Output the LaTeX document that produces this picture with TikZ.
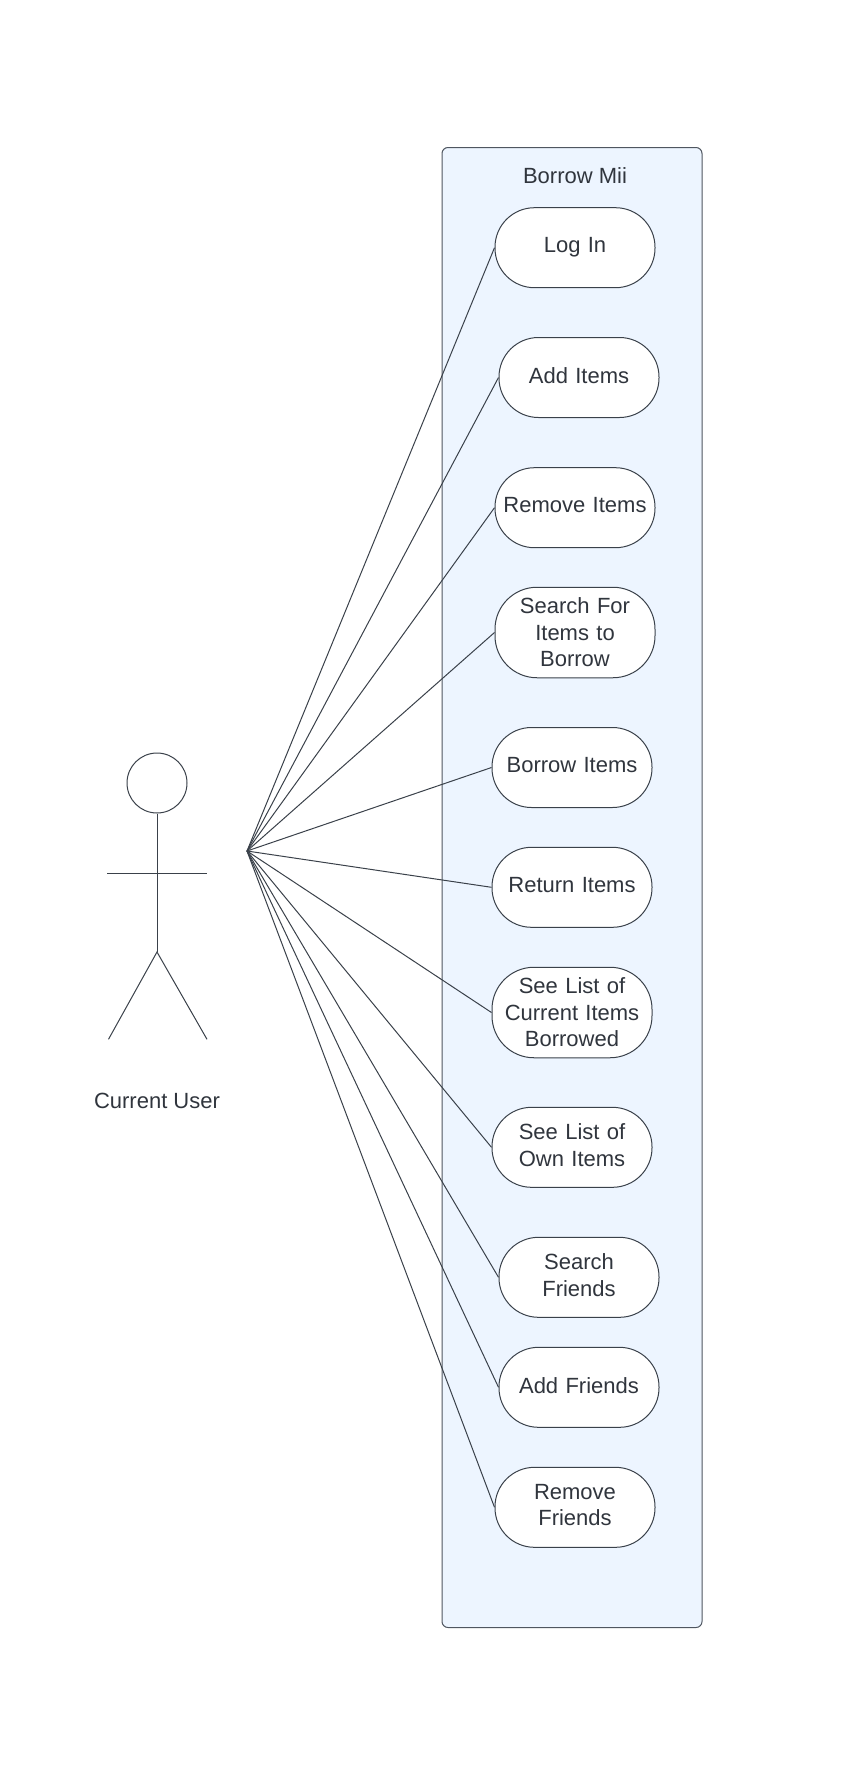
\documentclass[tikz,border=0pt]{standalone}
\usepackage{fontspec}
\setmainfont{Liberation Sans}
\definecolor{ink}{HTML}{30353D}
\definecolor{edge}{HTML}{3A414A}
\definecolor{frameedge}{HTML}{4F5660}
\definecolor{panel}{HTML}{EDF5FF}
\tikzset{
  usecase/.style={draw=edge,line width=1pt,fill=white,rounded corners=39.5pt,minimum width=160pt,
    text width=154pt,align=center,text=ink,inner sep=0pt,font=\fontsize{22}{26.6}\selectfont},
  tall/.style={minimum height=90.5pt,rounded corners=42pt},
  short/.style={minimum height=80pt,execute at end node=\vphantom{g}},
  label/.style={text=ink,font=\fontsize{22}{26.6}\selectfont,inner sep=0pt},
  panelbox/.style={draw=frameedge,line width=1pt,fill=panel,rounded corners=6pt,minimum width=260pt,minimum height=1480pt,inner sep=0pt},
  link/.style={draw=edge,line width=1pt},
  stick/.style={draw=edge,line width=1pt},
}
\begin{document}
\begin{tikzpicture}[x=1pt,y=-1pt]
\useasboundingbox (0,0) rectangle (847,1769);
\node[panelbox] (system) at (572,887.5) {};
\node[label] (title) at (575,175.5) {Borrow Mii};
\coordinate (apex) at (247,851);
\foreach \nm/\cx/\cy/\sz/\txt in {
  login/575/247.7/short/{Log In},
  additems/579/377.5/short/{Add Items},
  removeitems/575/507.7/short/{Remove Items},
  searchitems/575/632.5/tall/{Search For\\Items to\\Borrow},
  borrowitems/572/767.5/short/{Borrow Items},
  returnitems/572/887.3/short/{Return Items},
  listcurrent/572/1012.5/tall/{See List of\\Current Items\\Borrowed},
  listown/572/1147.3/short/{See List of\\Own Items},
  searchfriends/579/1277.3/short/{Search\\Friends},
  addfriends/579/1387.3/short/{Add Friends},
  removefriends/575/1507.3/short/{Remove\\Friends}}{
  \node[usecase,\sz] (\nm) at (\cx,\cy) {\txt};
  \draw[link] (apex) -- (\nm.west);
}
\node[draw=edge,line width=1pt,circle,minimum size=60pt,inner sep=0pt] (head) at (157,783) {};
\coordinate (hip) at (157,952);
\coordinate (handl) at (107,873.3);
\coordinate (handr) at (207,873.3);
\coordinate (footl) at (108.5,1039.3);
\coordinate (footr) at (207,1039.3);
\draw[stick] (head.south) -- (hip);
\draw[stick] (handl) -- (handr);
\draw[stick] (footl) -- (hip) -- (footr);
\node[label] (actor) at (157,1101.3) {Current User};
\end{tikzpicture}
\end{document}
